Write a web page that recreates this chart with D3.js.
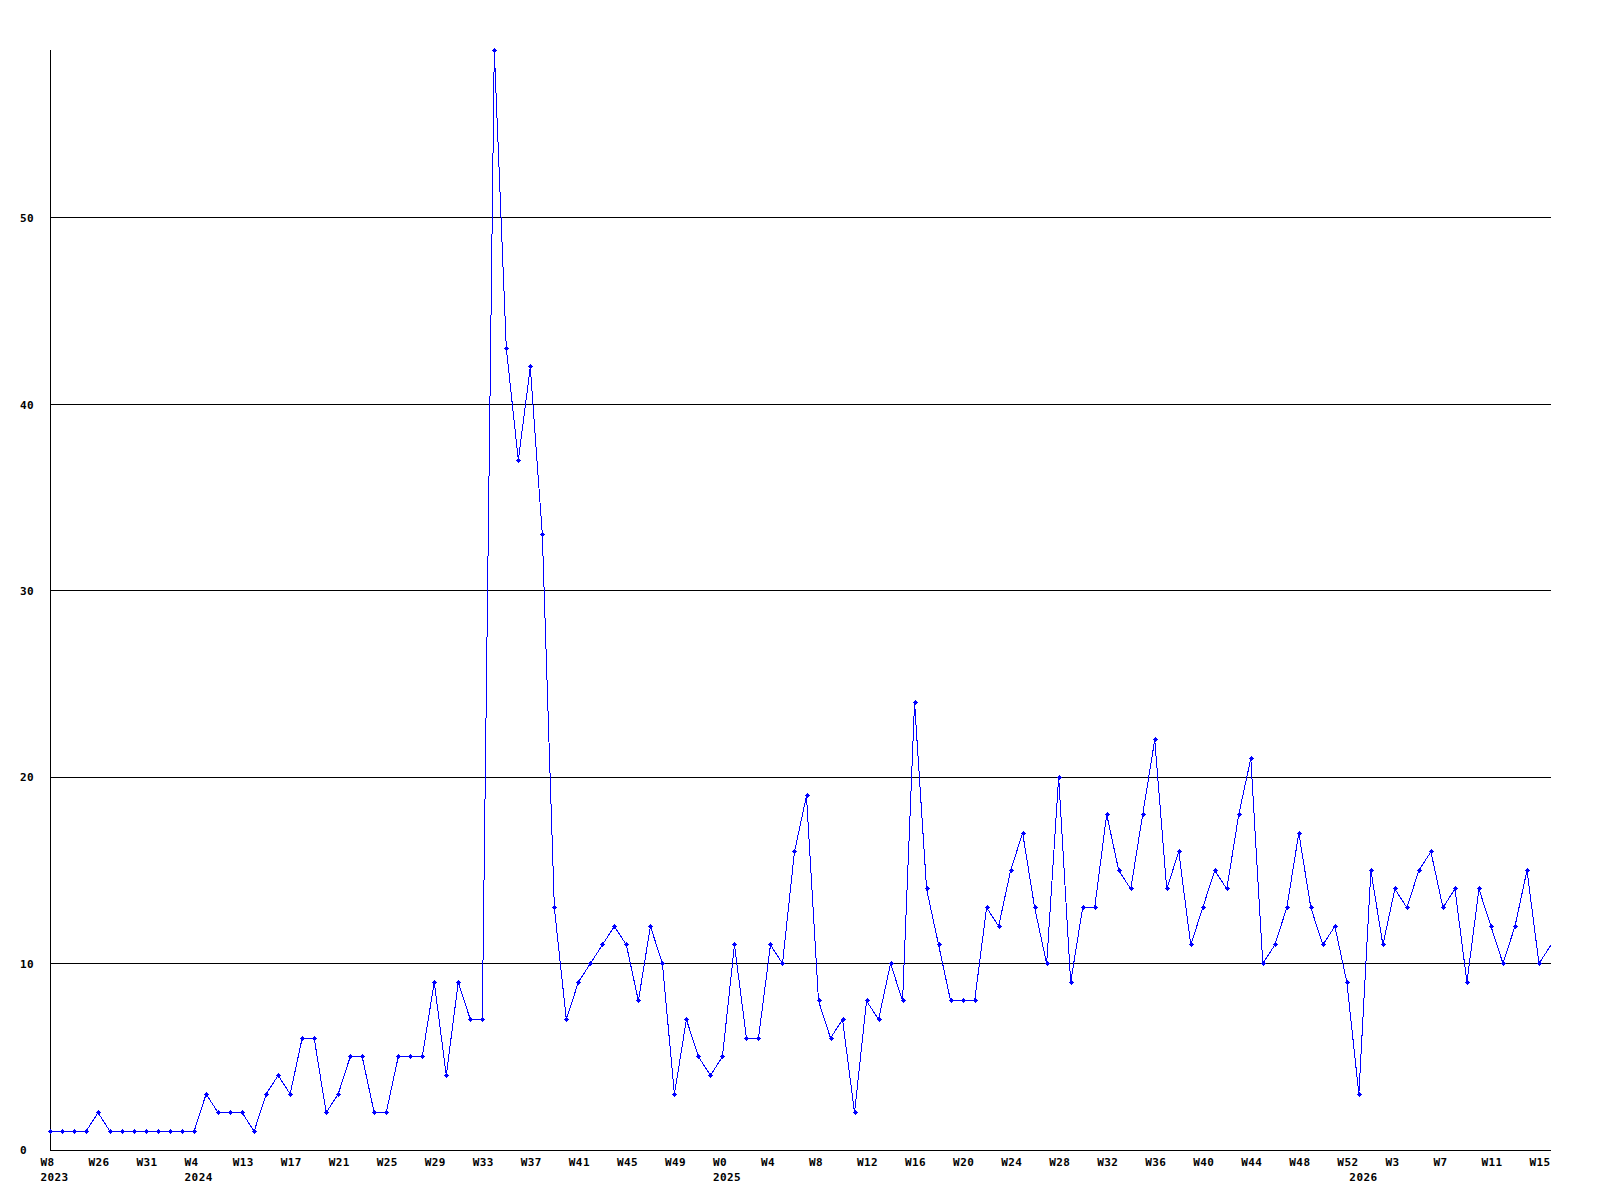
<!DOCTYPE html>
<html>
<head>
<meta charset="utf-8">
<script src="https://cdn.jsdelivr.net/npm/d3@7"></script>
<style>
  html, body { margin: 0; padding: 0; background: #ffffff; }
  svg { display: block; }
  .lbl { font-family: "DejaVu Sans Mono", "Liberation Mono", monospace; font-weight: bold; font-size: 11px; letter-spacing: 0.4px; fill: #000; }
</style>
</head>
<body>
<svg id="chart" width="1600" height="1200"></svg>
<script>
// ---- data ----
const values = [
  1, 1, 1, 1, 2, 1, 1, 1, 1, 1, 1, 1, 1, 3, 2, 2, 2, 1, 3, 4,
  3, 6, 6, 2, 3, 5, 5, 2, 2, 5, 5, 5, 9, 4, 9, 7, 7, 59, 43, 37,
  42, 33, 13, 7, 9, 10, 11, 12, 11, 8, 12, 10, 3, 7, 5, 4, 5, 11, 6, 6,
  11, 10, 16, 19, 8, 6, 7, 2, 8, 7, 10, 8, 24, 14, 11, 8, 8, 8, 13, 12,
  15, 17, 13, 10, 20, 9, 13, 13, 18, 15, 14, 18, 22, 14, 16, 11, 13, 15, 14, 18,
  21, 10, 11, 13, 17, 13, 11, 12, 9, 3, 15, 11, 14, 13, 15, 16, 13, 14, 9, 14,
  12, 10, 12, 15, 10, 11
];
const weekLabels = [
  "W8", "W26", "W31", "W4", "W13", "W17", "W21", "W25", "W29", "W33", "W37",
  "W41", "W45", "W49", "W0", "W4", "W8", "W12", "W16", "W20", "W24", "W28",
  "W32", "W36", "W40", "W44", "W48", "W52", "W3", "W7", "W11", "W15"
];
const weekLabelStep = 4;
const yearLabels = ["2023", "2024", "2025", "2026"];
const yearLabelIndex = [0, 12, 56, 109];
const yTicks = [0, 10, 20, 30, 40, 50];
const yMax = 59;

(function () {
// ---- layout ----
const svg = d3.select("#chart");
const mLeft = 50, mRight = 1551, mTop = 50, mBottom = 1150;
const x = d3.scaleLinear().domain([0, values.length - 1]).range([mLeft, mRight]);
const y = d3.scaleLinear().domain([0, yMax]).range([mBottom, mTop]);

// gridlines
svg.append("g")
  .selectAll("line")
  .data(yTicks.filter(d => d > 0))
  .join("line")
  .attr("x1", mLeft).attr("x2", mRight)
  .attr("y1", d => Math.floor(y(d)) + 0.5).attr("y2", d => Math.floor(y(d)) + 0.5)
  .attr("stroke", "#000").attr("stroke-width", 1)
  .attr("shape-rendering", "crispEdges");

// axis lines
svg.append("line")
  .attr("x1", mLeft + 0.5).attr("x2", mLeft + 0.5)
  .attr("y1", mTop).attr("y2", mBottom)
  .attr("stroke", "#000").attr("shape-rendering", "crispEdges");
svg.append("line")
  .attr("x1", mLeft).attr("x2", mRight)
  .attr("y1", mBottom + 0.5).attr("y2", mBottom + 0.5)
  .attr("stroke", "#000").attr("shape-rendering", "crispEdges");

// y axis labels
const yAxis = d3.axisLeft(y).tickValues(yTicks).tickSize(0).tickPadding(0).tickFormat(d3.format("d"));
const gy = svg.append("g").attr("transform", `translate(${mLeft},0)`).call(yAxis);
gy.attr("font-family", null).attr("font-size", null);
gy.select(".domain").remove();
gy.selectAll("text")
  .attr("class", "lbl")
  .attr("x", -30)
  .attr("dy", "0.35em")
  .style("text-anchor", "start");

// x week labels
const weekIdx = weekLabels.map((_, i) => i * weekLabelStep);
const xAxis = d3.axisBottom(x).tickValues(weekIdx).tickSize(0).tickPadding(0)
  .tickFormat((d, i) => weekLabels[i]);
const gx = svg.append("g").attr("transform", `translate(0,${mBottom})`).call(xAxis);
gx.attr("font-family", null).attr("font-size", null);
gx.select(".domain").remove();
gx.selectAll("text")
  .attr("class", "lbl")
  .attr("x", -10)
  .attr("y", 16)
  .attr("dy", null)
  .style("text-anchor", "start");

// x year labels
const yearAxis = d3.axisBottom(x).tickValues(yearLabelIndex).tickSize(0).tickPadding(0)
  .tickFormat((d, i) => yearLabels[i]);
const gyr = svg.append("g").attr("transform", `translate(0,${mBottom})`).call(yearAxis);
gyr.attr("font-family", null).attr("font-size", null);
gyr.select(".domain").remove();
gyr.selectAll("text")
  .attr("class", "lbl")
  .attr("x", -10)
  .attr("y", 31)
  .attr("dy", null)
  .style("text-anchor", "start");

// data line
const line = d3.line().x((d, i) => x(i)).y(d => y(d));
svg.append("path")
  .datum(values)
  .attr("d", line)
  .attr("fill", "none")
  .attr("stroke", "#0000ff")
  .attr("stroke-width", 1)
  .attr("shape-rendering", "crispEdges");

// markers (small crosses)
const marker = "M-2.5,-0.5h5v1h-5z M-0.5,-2.5h1v5h-1z M-1.5,-1.5h3v3h-3z";
svg.append("g")
  .selectAll("path")
  .data(values.slice(0, values.length - 1))
  .join("path")
  .attr("transform", (d, i) => `translate(${Math.round(x(i)) + 0.5},${Math.floor(y(d)) + 0.5})`)
  .attr("d", marker)
  .attr("fill", "#0000ff")
  .attr("shape-rendering", "crispEdges");
})();
</script>
</body>
</html>
